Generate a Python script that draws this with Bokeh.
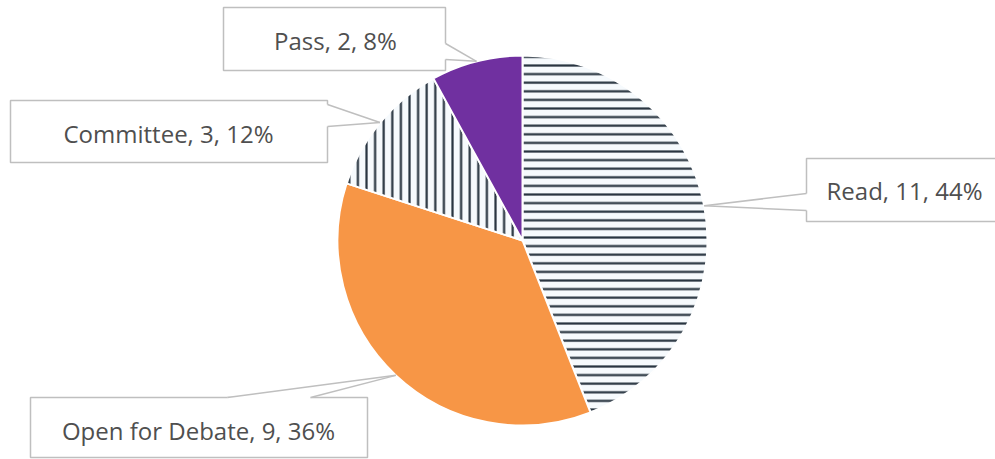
import numpy as np
from bokeh.plotting import figure
from bokeh.models import Range1d, ColumnDataSource
from bokeh.core.properties import value
from bokeh.embed import file_html
from bokeh.resources import INLINE

# ---- data ----
categories = ["Read", "Open for Debate", "Committee", "Pass"]
counts = [11, 9, 3, 2]

# ---- styles ----
fill_colors = ["#f6fafd", "#f79646", "#f6fafd", "#7030a0"]
hatch_patterns = ["horizontal_line", " ", "vertical_line", " "]

W, H = 995, 459
total = sum(counts)
pcts = [round(c / total * 100) for c in counts]
labels = [f"{c}, {n}, {p}%" for c, n, p in zip(categories, counts, pcts)]

# layout (pixel coordinates from the top-left)
cx_px, cy_px, R = 522, 240, 185
boxes_px = [  # x0, y0, x1, y1 for each label box
    (806, 158, 1000, 221),
    (30, 397, 367, 457),
    (10, 100, 327, 162),
    (223, 7, 445, 70),
]
bases_px = [  # the two points where the pointer meets the box
    ((806, 193), (806, 210)),
    ((227, 397), (310, 397)),
    ((327, 104), (327, 126)),
    ((445, 43), (445, 59)),
]
text_px = [(904, 190), (198, 430), (168, 133), (335, 40)]

def fy(ypx):
    return H - ypx

p = figure(width=W, height=H, x_range=Range1d(0, W), y_range=Range1d(0, H),
           output_backend="svg", toolbar_location=None,
           x_axis_location=None, y_axis_location=None, min_border=0,
           outline_line_color=None)
p.grid.visible = False
p.background_fill_color = "white"
p.border_fill_color = "white"

# ---- pie (clockwise from 12 o'clock) ----
frac = np.array(counts) / total
cum = np.concatenate([[0], np.cumsum(frac)])
start = np.pi / 2 - cum[1:] * 2 * np.pi
end = np.pi / 2 - cum[:-1] * 2 * np.pi
mid = (start + end) / 2

for i in range(len(categories)):
    p.wedge(x=cx_px, y=fy(cy_px), radius=R, start_angle=start[i], end_angle=end[i],
            fill_color=fill_colors[i], line_color="white", line_width=2,
            hatch_pattern=hatch_patterns[i], hatch_color="#26323e",
            hatch_scale=8.6, hatch_weight=2.2)

# ---- callouts ----
box_line = "#bfbfbf"
for i in range(len(categories)):
    x0, y0, x1, y1 = boxes_px[i]
    p.quad(left=x0, right=x1, top=fy(y0), bottom=fy(y1),
           fill_color="white", line_color=box_line, line_width=1.5)
    tx = cx_px + R * np.cos(mid[i])
    ty = fy(cy_px) + R * np.sin(mid[i])
    (b1x, b1y), (b2x, b2y) = bases_px[i]
    bcx, bcy = (x0 + x1) / 2, fy((y0 + y1) / 2)
    # points pushed slightly inside the box to hide the border gap
    def inside(bx, by):
        dx, dy = bcx - bx, bcy - fy(by)
        if abs(bx - x0) < 1 or abs(bx - x1) < 1:
            return bx + np.sign(dx) * 2, fy(by)
        return bx, fy(by) + np.sign(dy) * 2
    i1 = inside(b1x, b1y)
    i2 = inside(b2x, b2y)
    p.patch(x=[i1[0], b1x, tx, b2x, i2[0]], y=[i1[1], fy(b1y), ty, fy(b2y), i2[1]],
            fill_color="white", line_color=None)
    p.multi_line(xs=[[b1x, tx], [b2x, tx]], ys=[[fy(b1y), ty], [fy(b2y), ty]],
                 line_color=box_line, line_width=1.5)

src = ColumnDataSource(dict(x=[t[0] for t in text_px], y=[fy(t[1]) for t in text_px], text=labels))
p.text(x="x", y="y", text="text", source=src, text_align="center", text_baseline="middle",
       text_font=value("Open Sans"), text_font_size="24px", text_color="#4f4f4f")

open("out.html", "w").write(file_html(p, INLINE))
